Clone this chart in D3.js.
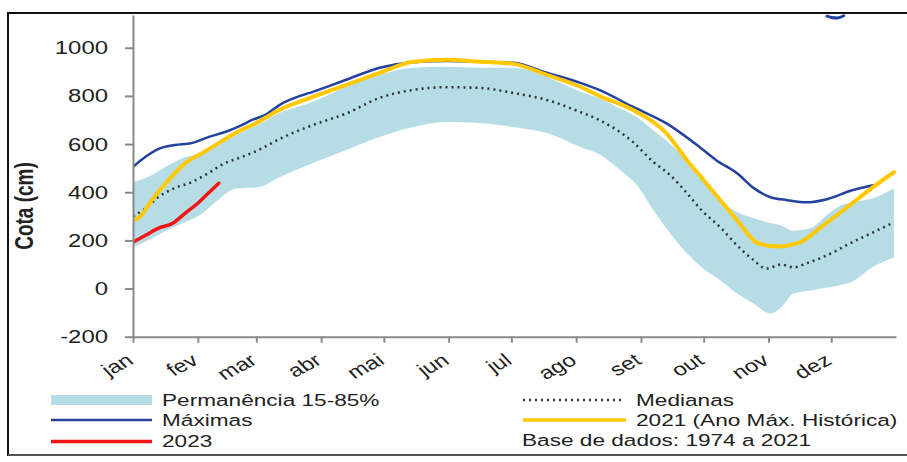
<!DOCTYPE html>
<html><head><meta charset="utf-8">
<script src="https://cdn.jsdelivr.net/npm/d3@7"></script>
<style>
html,body{margin:0;padding:0;background:#fff;}
svg{display:block;}
text{font-family:"Liberation Sans",Arial,sans-serif;}
</style></head>
<body>
<svg id="chart" width="907" height="462"></svg>
<script>
// ---- data ----
const months = ["jan","fev","mar","abr","mai","jun","jul","ago","set","out","nov","dez"];
const monthStartDays = [0,31,59,90,120,151,181,212,243,273,304,334];
const yTicks = [-200,0,200,400,600,800,1000];

const bandDays  = [0,9,17,25,32,41,49,60,70,86,102,118,134,150,166,182,198,214,223,233,241,249,257,265,272,281,289,297,305,310,316,324,332,337,344,354,364];
const bandUpper = [442,471,512,546,558,596,636,680,729,775,838,888,917,921,917,917,879,817,790,748,712,656,600,528,452,362,318,292,272,262,240,250,305,338,358,375,417];
const bandLower = [171,208,245,275,305,370,415,421,462,521,575,629,671,692,687,671,646,588,558,492,430,325,229,146,88,33,-21,-63,-104,-79,-21,-8,4,12,28,90,129];

const maxDays = [0,6,12,20,28,36,44,52,57,64,70,80,86,102,118,134,150,166,182,198,214,223,239,255,271,279,289,297,305,313,322,332,344,354];
const maxVals = [505,547,579,596,604,629,650,679,700,725,762,800,817,867,917,940,945,942,938,896,854,825,755,687,588,533,479,417,379,367,358,371,408,429];

const spikeDays = [332,334,337,340];
const spikeVals = [1131,1126,1124,1133];

const y2021Days = [0,3,9,17,25,33,41,49,60,70,86,102,118,134,150,166,182,198,214,223,239,255,265,273,281,289,299,308,319,329,344,354,364];
const y2021Vals = [283,296,367,450,521,562,604,646,692,742,796,846,896,942,950,942,933,887,838,800,742,646,533,450,367,283,188,175,192,254,354,421,483];

const medDays = [0,6,12,20,28,36,44,52,60,71,86,102,118,134,150,166,182,198,214,223,239,249,257,265,272,281,289,297,303,310,316,322,332,344,354,364];
const medVals = [300,333,379,417,442,479,521,546,575,625,679,727,792,825,836,833,812,783,733,700,610,525,471,396,325,254,179,117,83,100,88,104,138,192,233,275];

const y2023Days = [0,6,12,19,25,31,36,41];
const y2023Vals = [192,221,250,271,313,354,396,437];

const legendLeft  = ["Permanência 15-85%","Máximas","2023"];
const legendRight = ["Medianas","2021 (Ano Máx. Histórica)"];
const noteText = "Base de dados: 1974 a 2021";
const yTitle = "Cota (cm)";

// ---- styles ----
const C = {band:"#b6dde6", max:"#2342a0", y2021:"#ffc800", med:"#333", y2023:"#f51414", axis:"#8a8a8a", text:"#222"};
const SX = 1.33;

const svg = d3.select("#chart");
const x = d3.scaleLinear().domain([0,365]).range([133,896]);
const y = d3.scaleLinear().domain([-200,1136]).range([336.7,15]);

// frame
svg.append("rect").attr("x",8).attr("y",13).attr("width",920).attr("height",442)
  .attr("fill","none").attr("stroke","#111").attr("stroke-width",2);
svg.append("line").attr("x1",8).attr("x2",907).attr("y1",455).attr("y2",455)
  .attr("stroke","#555").attr("stroke-width",2);

svg.append("clipPath").attr("id","clip").append("rect")
  .attr("x",133).attr("y",14).attr("width",770).attr("height",330);
const plot = svg.append("g").attr("clip-path","url(#clip)");

const curve = d3.curveMonotoneX;
// band
const area = d3.area().curve(curve)
  .x((d,i)=>x(bandDays[i])).y0((d,i)=>y(bandLower[i])).y1((d,i)=>y(bandUpper[i]));
plot.append("path").attr("d",area(bandDays)).attr("fill",C.band);

function line(days, vals, color, width, dash){
  const g = d3.line().curve(curve).x((d,i)=>x(days[i])).y((d,i)=>y(vals[i]));
  const p = plot.append("path").attr("d",g(days)).attr("fill","none")
    .attr("stroke",color).attr("stroke-width",width).attr("stroke-linejoin","round").attr("stroke-linecap","round");
  if(dash) p.attr("stroke-dasharray",dash).attr("stroke-linecap","butt");
  return p;
}
line(medDays, medVals, C.med, 2.5, "2,4");
line(maxDays, maxVals, C.max, 2.5);
line(spikeDays, spikeVals, C.max, 3);
line(y2021Days, y2021Vals, C.y2021, 4);
line(y2023Days, y2023Vals, C.y2023, 3.5);

// axes
const ya = svg.append("g").attr("transform","translate(133,0)")
  .call(d3.axisLeft(y).tickValues(yTicks).tickSize(8).tickSizeOuter(0).tickFormat(""));
const xa = svg.append("g").attr("transform","translate(0,336.7)")
  .call(d3.axisBottom(x).tickValues(monthStartDays).tickSize(6).tickSizeOuter(0).tickFormat(""));
[ya,xa].forEach(a=>{ a.selectAll("path,line").attr("stroke",C.axis).attr("stroke-width",2); });

function stext(tx, ty, str, size, anchor, rot, weight){
  return svg.append("text")
    .attr("transform",`translate(${tx},${ty}) scale(${SX},1)` + (rot? ` rotate(${rot})`:""))
    .attr("text-anchor",anchor).attr("font-size",size).attr("fill",C.text)
    .attr("font-weight",weight||"normal").text(str);
}
yTicks.forEach(v=>{ stext(108, y(v), v, 18, "end").attr("dy","0.36em"); });
months.forEach((m,i)=>{ stext(x(monthStartDays[i])+2, 363, m, 18, "end", -35); });

stext(24, 206, yTitle, 19, "middle", -90, "bold").attr("dy","0.36em");

// legend
svg.append("rect").attr("x",51).attr("y",395).attr("width",101).attr("height",10).attr("fill",C.band);
svg.append("line").attr("x1",51).attr("x2",152).attr("y1",420).attr("y2",420).attr("stroke",C.max).attr("stroke-width",2.5);
svg.append("line").attr("x1",51).attr("x2",152).attr("y1",441.5).attr("y2",441.5).attr("stroke",C.y2023).attr("stroke-width",3.5);
const lyL=[400,420,441];
legendLeft.forEach((t,i)=>stext(162, lyL[i], t, 17, "start").attr("dy","0.36em"));

svg.append("line").attr("x1",523).attr("x2",623).attr("y1",400).attr("y2",400).attr("stroke",C.med).attr("stroke-width",2.5).attr("stroke-dasharray","2,4");
svg.append("line").attr("x1",523).attr("x2",626).attr("y1",420).attr("y2",420).attr("stroke",C.y2021).attr("stroke-width",3.5);
const lyR=[400,420];
legendRight.forEach((t,i)=>stext(636, lyR[i], t, 17, "start").attr("dy","0.36em"));
stext(522, 440, noteText, 17, "start").attr("dy","0.36em");
</script>
</body></html>
